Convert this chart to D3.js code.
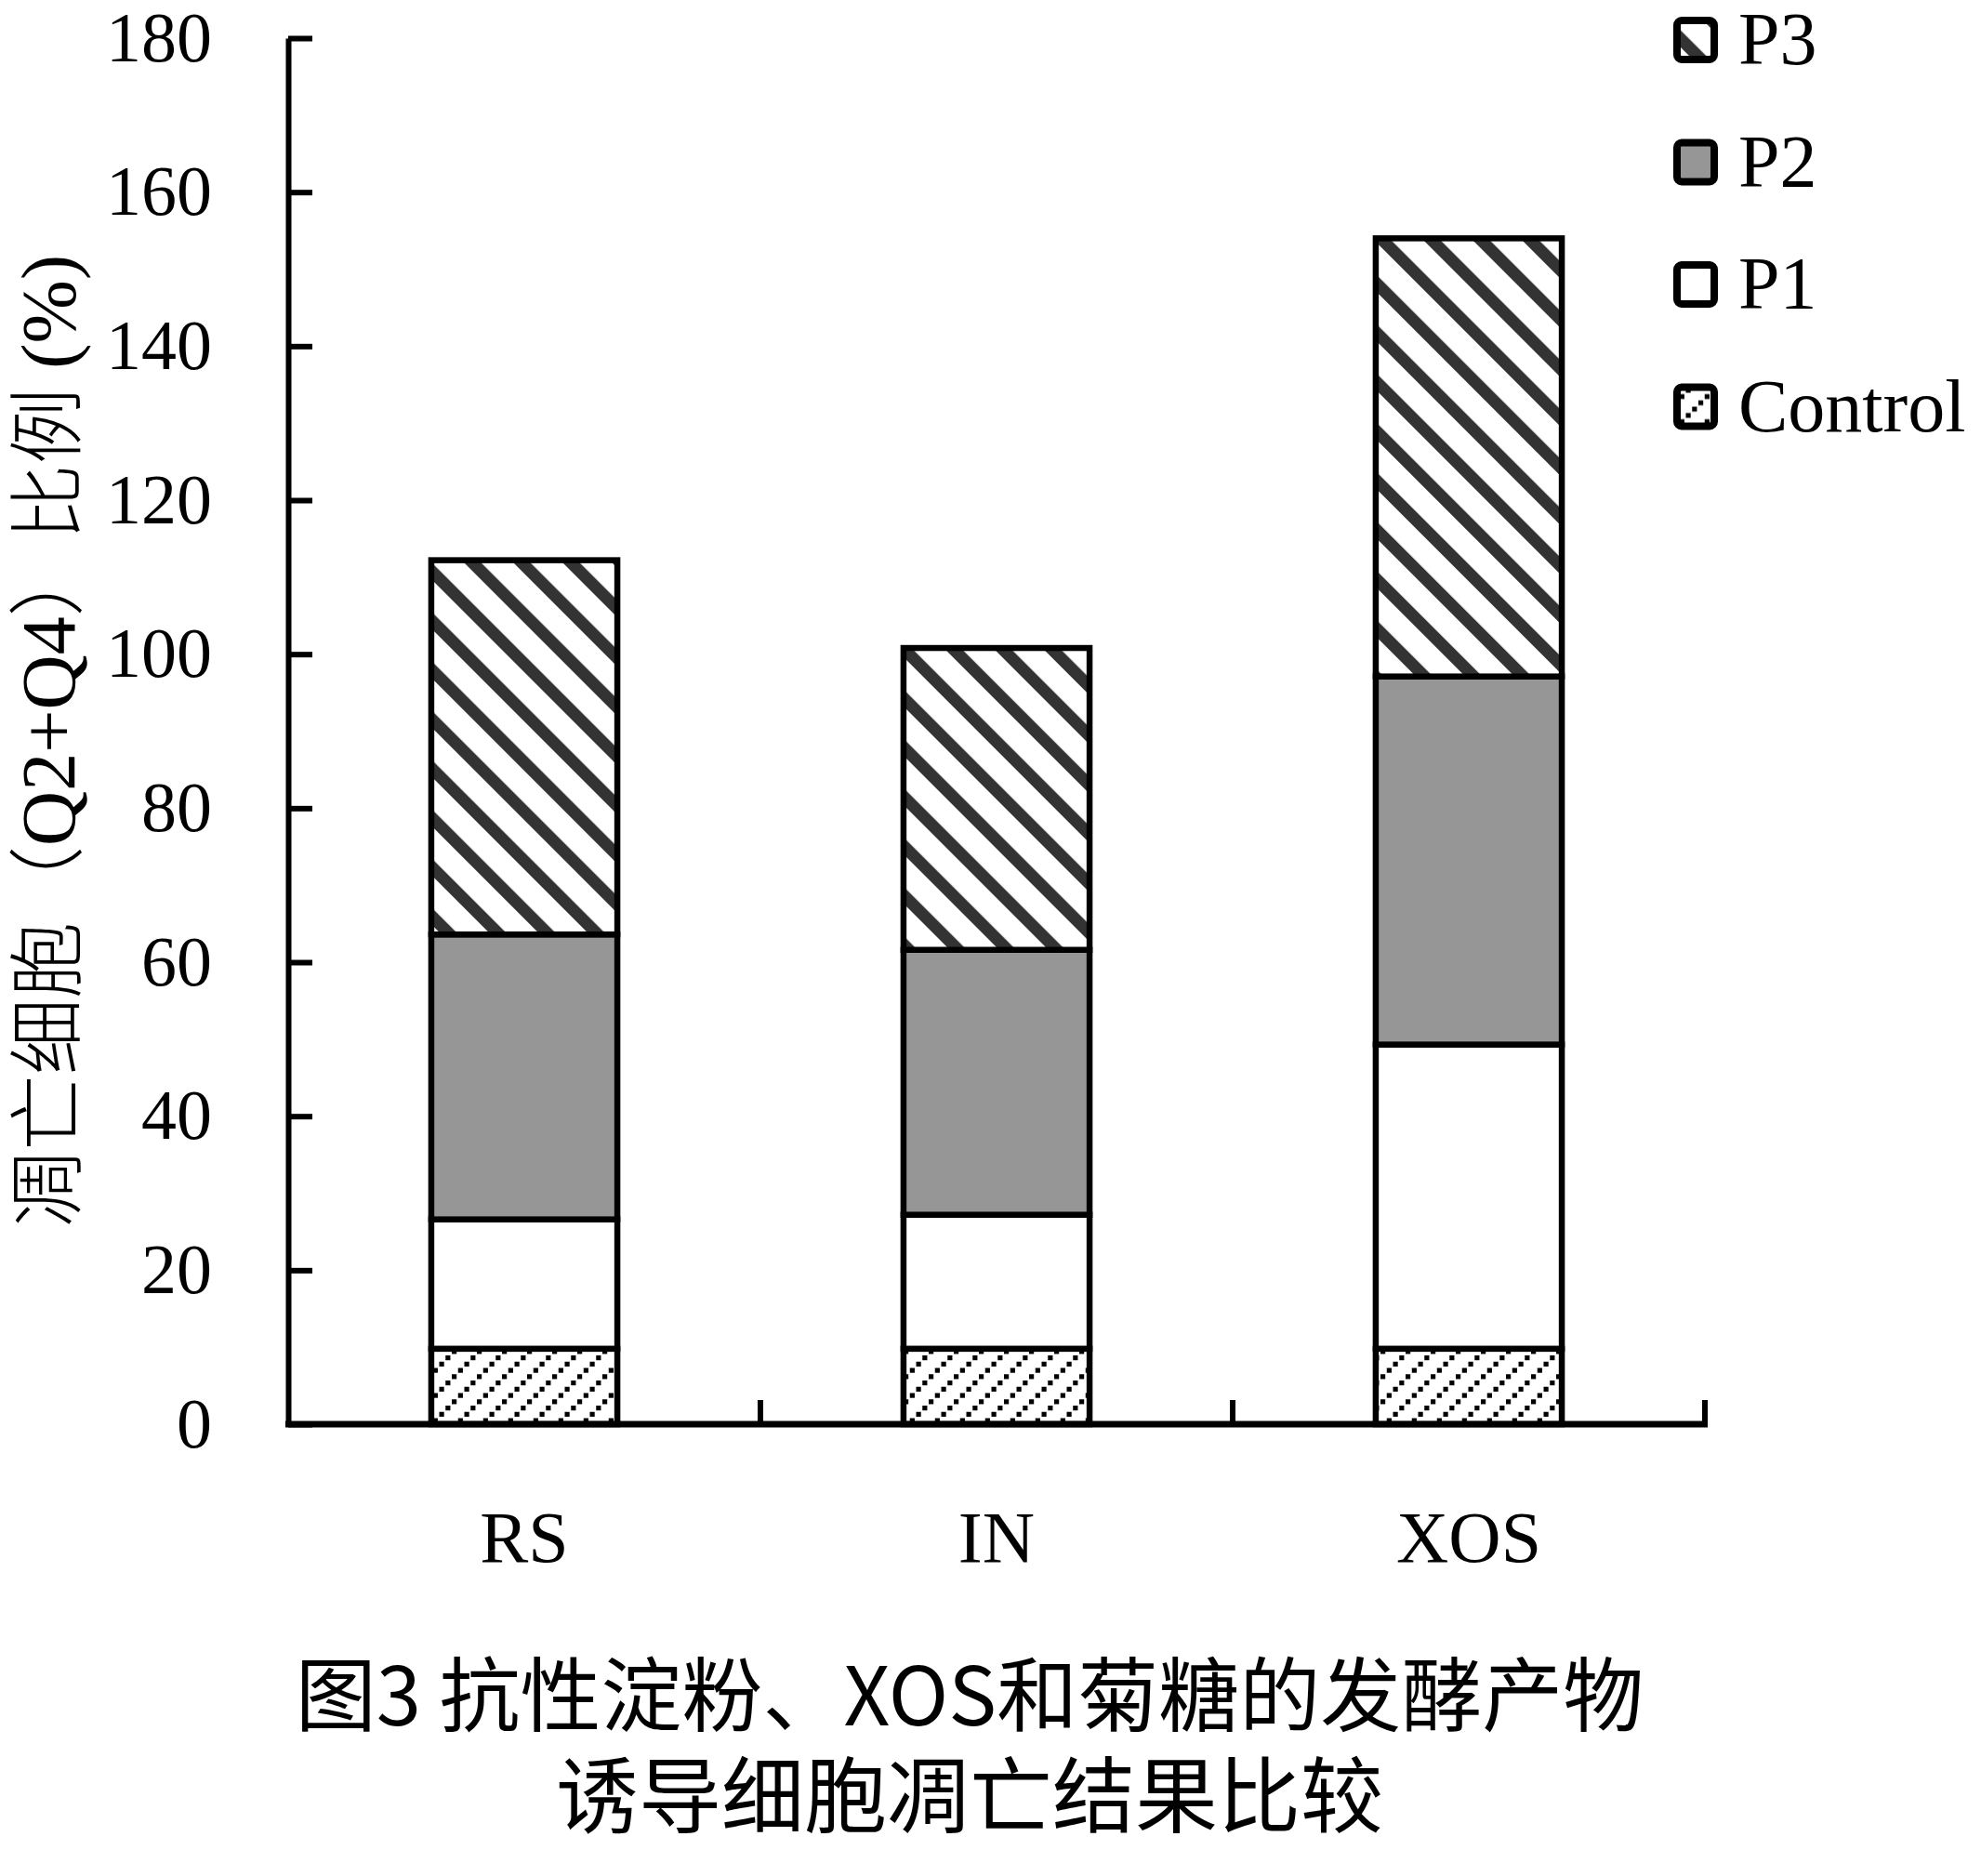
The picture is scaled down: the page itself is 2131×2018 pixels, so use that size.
<!DOCTYPE html>
<html lang="zh">
  <head>
    <meta charset="UTF-8" />
    <title>凋亡细胞比例</title>
    <script src="https://cdn.jsdelivr.net/npm/d3@7"></script>
    <style>
      html,
      body {
        margin: 0;
        padding: 0;
        background: #fff;
      }
    </style>
  </head>
  <body>
    <script>
      // values (stack increments, %)
      const categories = ['RS', 'IN', 'XOS'];
      const seriesNames = ['Control', 'P1', 'P2', 'P3'];
      const controlValues = [9.8, 9.8, 9.8];
      const p1Values = [16.8, 17.4, 39.5];
      const p2Values = [37.0, 34.4, 47.8];
      const p3Values = [48.6, 39.2, 56.9];
      const yTicks = [0, 20, 40, 60, 80, 100, 120, 140, 160, 180];
      const legendOrder = ['P3', 'P2', 'P1', 'Control'];
      const captionLines = ['图3 抗性淀粉、XOS和菊糖的发酵产物', '诱导细胞凋亡结果比较'];

      const width = 2131,
        height = 2018;

      const rows = categories.map((c, i) => ({
        category: c,
        Control: controlValues[i],
        P1: p1Values[i],
        P2: p2Values[i],
        P3: p3Values[i],
      }));

      const stacked = d3.stack().keys(seriesNames)(rows);

      const svg = d3
        .select('body')
        .append('svg')
        .attr('width', width)
        .attr('height', height)
        .attr('viewBox', `0 0 ${width} ${height}`);

      const defs = svg.append('defs');

      // P3: thick dark "\" stripes
      const p3Pattern = defs
        .append('pattern')
        .attr('id', 'pat-p3')
        .attr('patternUnits', 'userSpaceOnUse')
        .attr('width', 37.5)
        .attr('height', 37.5)
        .attr('patternTransform', 'rotate(-45)');
      p3Pattern
        .append('rect')
        .attr('width', 37.5)
        .attr('height', 37.5)
        .style('fill', '#fff');
      p3Pattern
        .append('rect')
        .attr('x', 0)
        .attr('width', 13)
        .attr('height', 37.5)
        .style('fill', '#333');

      // Control: fine dotted "/" hatching
      const ctrlPattern = defs
        .append('pattern')
        .attr('id', 'pat-control')
        .attr('patternUnits', 'userSpaceOnUse')
        .attr('width', 27)
        .attr('height', 27);
      ctrlPattern
        .append('rect')
        .attr('width', 27)
        .attr('height', 27)
        .style('fill', '#fff');
      d3.range(4).forEach(i => {
        ctrlPattern
          .append('rect')
          .attr('x', i * 6.75)
          .attr('y', 27 - (i + 1) * 6.75)
          .attr('width', 5.2)
          .attr('height', 5.2)
          .style('fill', '#000');
      });

      const fills = {
        Control: 'url(#pat-control)',
        P1: '#ffffff',
        P2: '#969696',
        P3: 'url(#pat-p3)',
      };

      const x = d3
        .scaleBand()
        .domain(categories)
        .range([310, 1834])
        .paddingInner(0.606)
        .paddingOuter(0.303);

      const y = d3
        .scaleLinear()
        .domain([0, 180])
        .range([1532, 41]);

      // bars
      svg
        .append('g')
        .selectAll('g')
        .data(stacked)
        .join('g')
        .style('fill', d => fills[d.key])
        .selectAll('rect')
        .data(d => d)
        .join('rect')
        .attr('x', d => x(d.data.category))
        .attr('width', x.bandwidth())
        .attr('y', d => y(d[1]))
        .attr('height', d => y(d[0]) - y(d[1]))
        .style('stroke', '#000')
        .style('stroke-width', 6.5);

      // y axis
      const yAxis = svg
        .append('g')
        .attr('transform', `translate(${x.range()[0]},0)`)
        .call(
          d3
            .axisLeft(y)
            .tickValues(yTicks)
            .tickSizeInner(-26)
            .tickSizeOuter(0)
            .tickPadding(82),
        );
      yAxis
        .select('.domain')
        .style('stroke', '#000')
        .style('stroke-width', 6);
      yAxis
        .selectAll('.tick line')
        .style('stroke', '#000')
        .style('stroke-width', 6);
      yAxis
        .selectAll('.tick text')
        .style('font-family', '"Liberation Serif", "Times New Roman", serif')
        .style('font-size', '76px')
        .style('fill', '#000');

      // x axis
      const xAxis = svg
        .append('g')
        .attr('transform', `translate(0,${y(0)})`)
        .call(d3.axisBottom(x).tickSize(0).tickSizeOuter(0));
      xAxis
        .select('.domain')
        .attr('d', `M${x.range()[0] - 3},0H${x.range()[1] + 3}`)
        .style('stroke', '#000')
        .style('stroke-width', 7);
      xAxis
        .selectAll('.tick text')
        .attr('y', 148)
        .attr('dy', 0)
        .style('font-family', '"Liberation Serif", "Times New Roman", serif')
        .style('font-size', '78px')
        .style('fill', '#000');

      // category boundary ticks
      svg
        .append('g')
        .selectAll('line')
        .data(d3.range(1, categories.length + 1))
        .join('line')
        .attr('x1', i => x.range()[0] + x.step() * i)
        .attr('x2', i => x.range()[0] + x.step() * i)
        .attr('y1', y(0))
        .attr('y2', y(0) - 26)
        .style('stroke', '#000')
        .style('stroke-width', 6);

      // y label
      svg
        .append('text')
        .attr('transform', 'translate(80,797) rotate(-90)')
        .attr('text-anchor', 'middle')
        .style('font-family', '"Liberation Serif", "Noto Sans CJK SC", serif')
        .style('font-size', '82px')
        .style('font-weight', 300)
        .style('fill', '#000')
        .text('凋亡细胞（Q2+Q4）比例 (%)');

      // legend
      const legend = svg
        .append('g')
        .selectAll('g')
        .data(legendOrder)
        .join('g')
        .attr('transform', (d, i) => `translate(1800,${43 + i * 131.5})`);

      legend
        .append('rect')
        .attr('x', 4)
        .attr('y', -21)
        .attr('width', 40)
        .attr('height', 42)
        .attr('rx', 5)
        .style('fill', d => fills[d])
        .style('stroke', '#000')
        .style('stroke-width', 8);

      legend
        .append('text')
        .attr('x', 70)
        .attr('y', 26)
        .style('font-family', '"Liberation Serif", "Times New Roman", serif')
        .style('font-size', '80px')
        .style('fill', '#000')
        .text(d => d);

      // caption, two lines
      svg
        .append('g')
        .selectAll('text')
        .data(captionLines)
        .join('text')
        .attr('x', 1043)
        .attr('y', (d, i) => 1856 + i * 108)
        .attr('text-anchor', 'middle')
        .style('font-family', '"Noto Sans CJK SC", sans-serif')
        .style('font-size', (d, i) => (i === 0 ? '87px' : '89px'))
        .style('font-weight', 400)
        .style('fill', '#000')
        .text(d => d);
    </script>
  </body>
</html>
